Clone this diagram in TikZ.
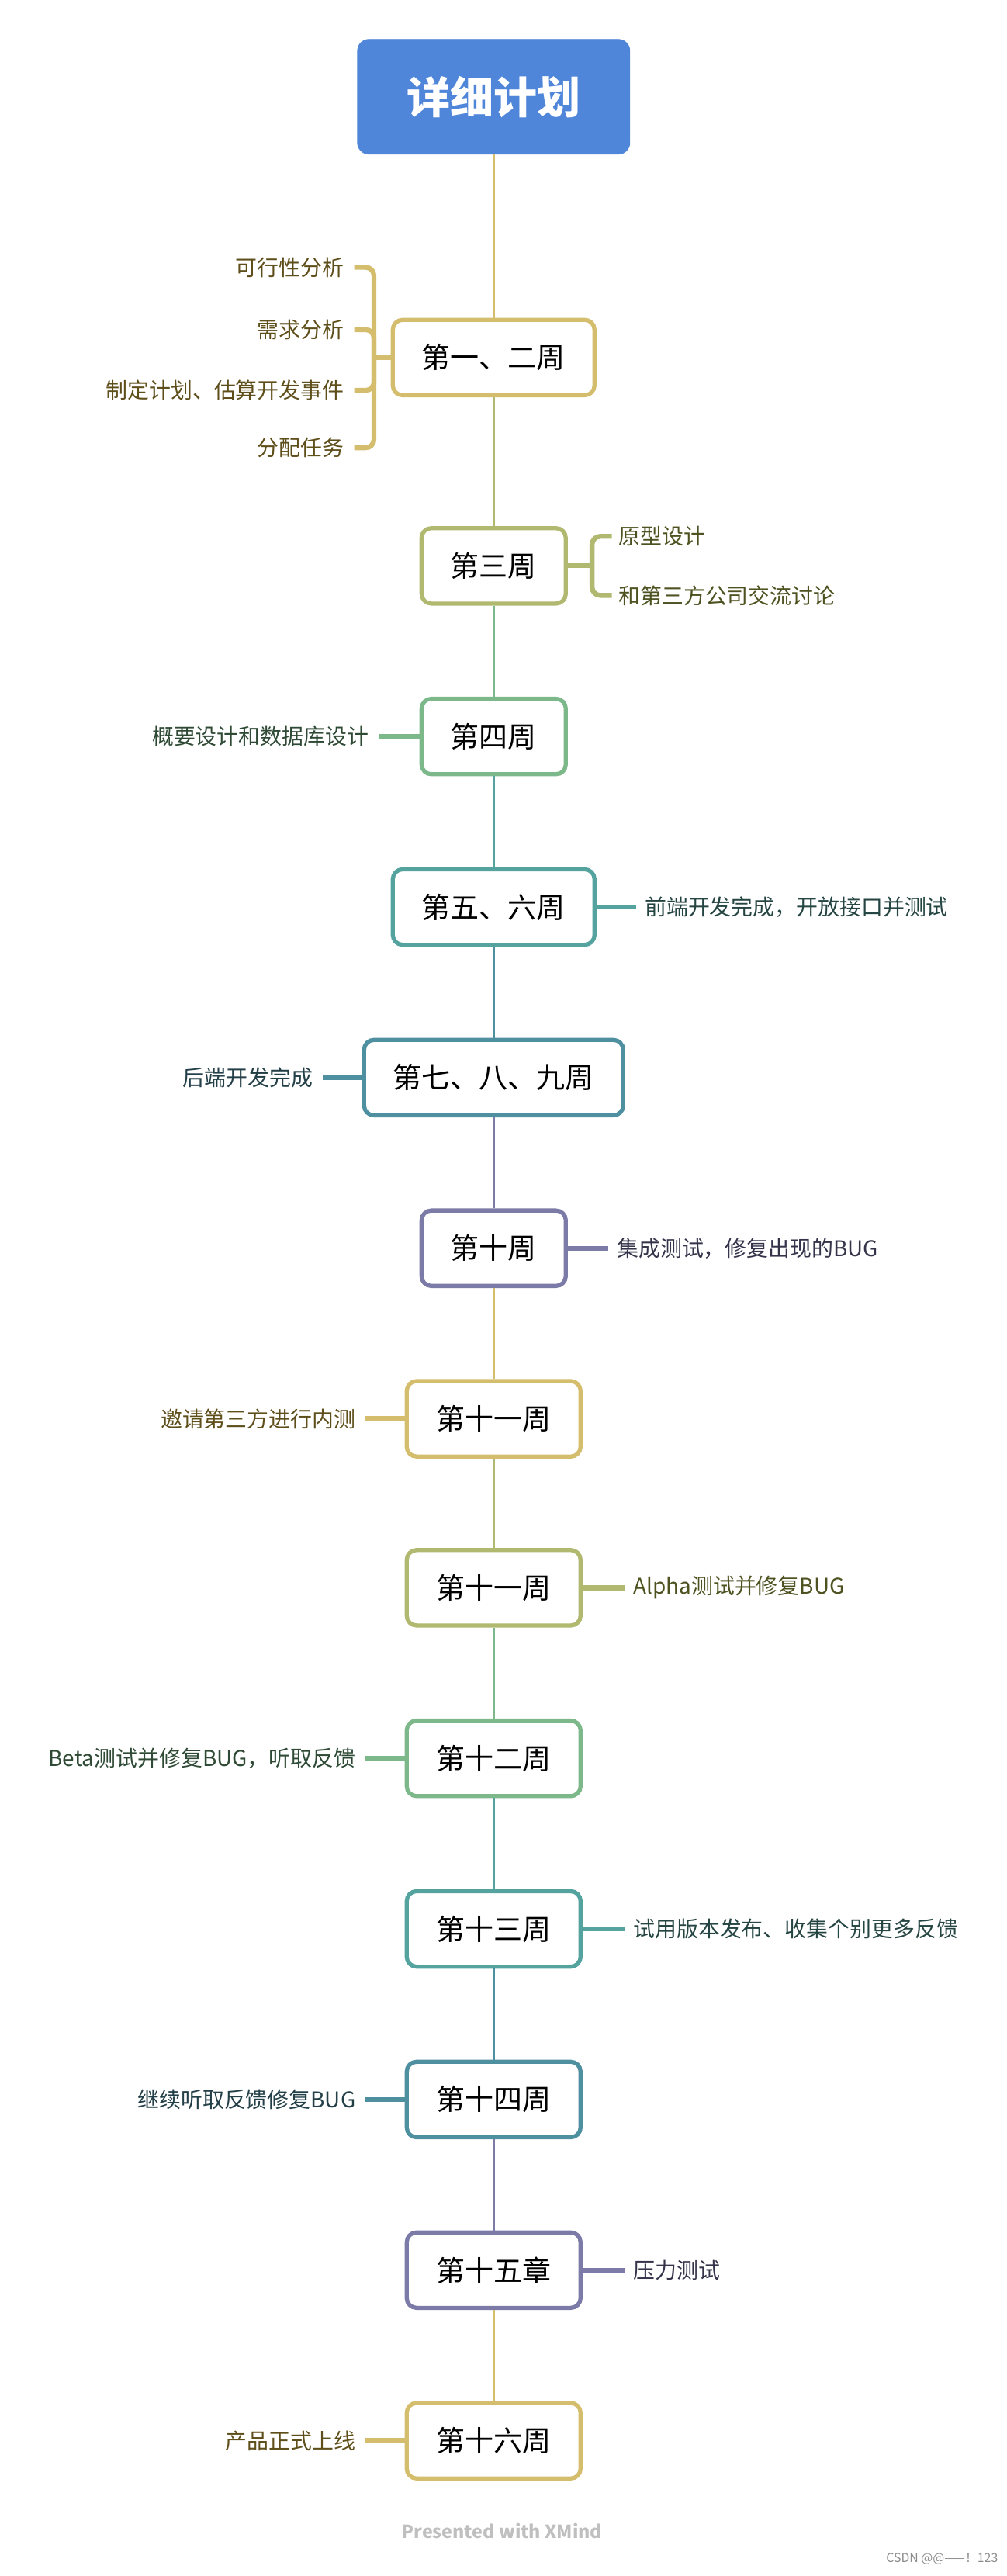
\documentclass[tikz,border=0pt]{standalone}
\usepackage{fontspec}
\setmainfont{Noto Sans CJK SC}
\usetikzlibrary{calc}
\definecolor{cY}{HTML}{D4BE6E}\definecolor{tY}{HTML}{5E4E1A}
\definecolor{cO}{HTML}{B1B870}\definecolor{tO}{HTML}{4E5220}
\definecolor{cG}{HTML}{7DB88A}\definecolor{tG}{HTML}{2E4A35}
\definecolor{cT}{HTML}{54A39E}\definecolor{tT}{HTML}{254543}
\definecolor{cB}{HTML}{4E8FA0}\definecolor{tB}{HTML}{233F48}
\definecolor{cP}{HTML}{7C7AA6}\definecolor{tP}{HTML}{34334A}
\definecolor{rootc}{HTML}{4F86D9}
\tikzset{
 wk/.style={draw=#1,line width=2.5pt,fill=white,rounded corners=6pt,minimum height=46pt,font=\fontsize{17.5}{20}\selectfont,inner sep=0pt},
 lf/.style={font=\fontsize{13.2}{15}\selectfont,text=#1,inner sep=0pt},
 ml/.style={draw=#1,line width=1.6pt},
 bl/.style={draw=#1,line width=3pt},
}
\begin{document}
\begin{tikzpicture}[x=1pt,y=-1pt]
\useasboundingbox (0,0) rectangle (614,1570.5);
\node[draw=rootc,fill=rootc,rounded corners=7pt,minimum width=166pt,minimum height=70pt,text=white,font=\fontsize{26.5}{30}\selectfont\bfseries] (root) at (301,59) {详细计划};
\node[wk=cY,minimum width=123pt] (w1) at (301,218) {第一、二周};
\node[wk=cO,minimum width=88pt] (w3) at (301,345) {第三周};
\node[wk=cG,minimum width=88pt] (w4) at (301,449) {第四周};
\node[wk=cT,minimum width=123pt] (w5) at (301,553) {第五、六周};
\node[wk=cB,minimum width=158pt] (w7) at (301,657) {第七、八、九周};
\node[wk=cP,minimum width=88pt] (w10) at (301,761) {第十周};
\node[wk=cY,minimum width=106pt] (w11) at (301,865) {第十一周};
\node[wk=cO,minimum width=106pt] (w11b) at (301,968) {第十一周};
\node[wk=cG,minimum width=106pt] (w12) at (301,1072) {第十二周};
\node[wk=cT,minimum width=106pt] (w13) at (301,1176) {第十三周};
\node[wk=cB,minimum width=106pt] (w14) at (301,1280) {第十四周};
\node[wk=cP,minimum width=106pt] (w15) at (301,1384) {第十五章};
\node[wk=cY,minimum width=106pt] (w16) at (301,1488) {第十六周};
\draw[ml=cY] (root) -- (w1);
\draw[ml=cO] (w1) -- (w3);
\draw[ml=cG] (w3) -- (w4);
\draw[ml=cT] (w4) -- (w5);
\draw[ml=cB] (w5) -- (w7);
\draw[ml=cP] (w7) -- (w10);
\draw[ml=cY] (w10) -- (w11);
\draw[ml=cO] (w11) -- (w11b);
\draw[ml=cG] (w11b) -- (w12);
\draw[ml=cT] (w12) -- (w13);
\draw[ml=cB] (w13) -- (w14);
\draw[ml=cP] (w14) -- (w15);
\draw[ml=cY] (w15) -- (w16);
% week 1-2 leaves
\node[lf=tY,anchor=east] (a1) at (210,163) {可行性分析};
\node[lf=tY,anchor=east] (a2) at (210,201) {需求分析};
\node[lf=tY,anchor=east] (a3) at (210,238) {制定计划、估算开发事件};
\node[lf=tY,anchor=east] (a4) at (210,273) {分配任务};
\coordinate (j1) at (228,218);
\draw[bl=cY] (w1.west) -- (j1);
\foreach \n in {a1,a2,a3,a4}{\draw[bl=cY,rounded corners=5pt] (j1) |- ($(\n.east)+(6,0)$);}
% week 3
\node[lf=tO,anchor=west] (b1) at (377,327) {原型设计};
\node[lf=tO,anchor=west] (b2) at (377,363) {和第三方公司交流讨论};
\coordinate (j3) at (361,345);
\draw[bl=cO] (w3.east) -- (j3);
\foreach \n in {b1,b2}{\draw[bl=cO,rounded corners=5pt] (j3) |- ($(\n.west)+(-4,0)$);}
% singles
\node[lf=tG,anchor=east] (c4) at (225,449) {概要设计和数据库设计};
\draw[bl=cG] (w4.west) -- ($(c4.east)+(6,0)$);
\node[lf=tT,anchor=west] (c5) at (393,553) {前端开发完成，开放接口并测试};
\draw[bl=cT] (w5.east) -- ($(c5.west)+(-5,0)$);
\node[lf=tB,anchor=east] (c7) at (191,657) {后端开发完成};
\draw[bl=cB] (w7.west) -- ($(c7.east)+(6,0)$);
\node[lf=tP,anchor=west] (c10) at (376,761) {集成测试，修复出现的BUG};
\draw[bl=cP] (w10.east) -- ($(c10.west)+(-5,0)$);
\node[lf=tY,anchor=east] (c11) at (217,865) {邀请第三方进行内测};
\draw[bl=cY] (w11.west) -- ($(c11.east)+(6,0)$);
\node[lf=tO,anchor=west] (c11b) at (386,968) {Alpha测试并修复BUG};
\draw[bl=cO] (w11b.east) -- ($(c11b.west)+(-5,0)$);
\node[lf=tG,anchor=east] (c12) at (217,1072) {Beta测试并修复BUG，听取反馈};
\draw[bl=cG] (w12.west) -- ($(c12.east)+(6,0)$);
\node[lf=tT,anchor=west] (c13) at (386,1176) {试用版本发布、收集个别更多反馈};
\draw[bl=cT] (w13.east) -- ($(c13.west)+(-5,0)$);
\node[lf=tB,anchor=east] (c14) at (217,1280) {继续听取反馈修复BUG};
\draw[bl=cB] (w14.west) -- ($(c14.east)+(6,0)$);
\node[lf=tP,anchor=west] (c15) at (386,1384) {压力测试};
\draw[bl=cP] (w15.east) -- ($(c15.west)+(-5,0)$);
\node[lf=tY,anchor=east] (c16) at (217,1488) {产品正式上线};
\draw[bl=cY] (w16.west) -- ($(c16.east)+(6,0)$);
% footer
\node[font=\fontsize{11}{12}\selectfont\bfseries,text=black!25] (ft) at (306,1543) {Presented with XMind};
\node[font=\fontsize{7.5}{9}\selectfont,text=black!45,anchor=east] (cs) at (612,1560) {CSDN @@——！123};
\end{tikzpicture}
\end{document}
